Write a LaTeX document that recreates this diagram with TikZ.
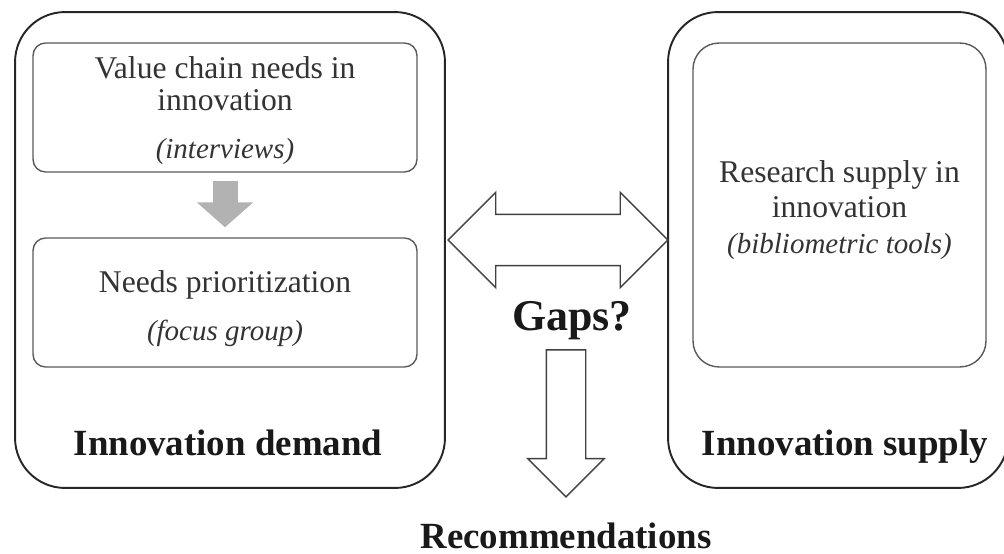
\documentclass[tikz,border=0pt]{standalone}
\usepackage{fontspec}
\setmainfont{Liberation Serif}
\usetikzlibrary{arrows.meta,shapes.arrows}

\newcommand{\meth}[1]{{\fontsize{16.5}{18.2}\selectfont\itshape #1}}

\begin{document}
\begin{tikzpicture}[
x=0.02cm, y=-0.02cm,
outerbox/.style={draw=black!85, line width=1.1pt, rounded corners=1cm, minimum height=9.52cm},
innerbox/.style={draw=black!65, line width=0.8pt, rounded corners=0.25cm, minimum width=7.68cm, minimum height=2.58cm},
boxtext/.style={align=center, text=black!80, inner sep=0pt, font=\fontsize{18}{18.2}\selectfont},
heading/.style={font=\fontsize{21}{24}\selectfont\bfseries, text=black!90, anchor=base, inner sep=0pt},
hollow/.style={draw=black!75, line width=0.8pt, fill=white, inner xsep=0pt} ]

\useasboundingbox (0,0) rectangle (1004,554);

\node[outerbox, minimum width=8.6cm](demand) at (230,250) {};

\node[outerbox, minimum width=6.8cm](supply) at (838,250) {};

\node[innerbox](chain) at (225,107.5) {};

\node[innerbox](prio) at (225,302.5) {};

\node[innerbox, rounded corners=0.52cm, minimum width=5.86cm, minimum height=6.48cm](research) at (839.5,205) {};

\node[boxtext](chaintxt) at (225,110.4) {Value chain needs in\\innovation\\[9pt]\meth{(interviews)}};

\node[boxtext](priotxt) at (225,308.3) {Needs prioritization\\[9pt]\meth{(focus group)}};

\node[boxtext, font=\fontsize{18}{20.2}\selectfont](researchtxt) at (839.5,209.9) {Research supply in\\innovation\\\meth{(bibliometric tools)}};

\node[heading](demandlbl) at (228,455) {Innovation demand};

\node[heading](supplylbl) at (845,455) {Innovation supply};

\node[heading, font=\fontsize{25}{30}\selectfont\bfseries](gaps) at (572,330) {Gaps?};

\node[heading](recs) at (566,548) {Recommendations};

\draw[line width=0.5cm, draw=black!30, -{Triangle[length=0.5cm,width=1.1cm]}, shorten <=0.16cm, shorten >=0.2cm] (chain) -- (prio);

\node[hollow, double arrow, inner ysep=0.5cm, double arrow head extend=0.44cm, minimum height=4.4cm](link) at (558,240) {};

\node[hollow, single arrow, inner ysep=0.38cm, single arrow head extend=0.37cm, minimum height=2.94cm, rotate=-90](result) at (566,413.5) {};
\end{tikzpicture}
\end{document}
